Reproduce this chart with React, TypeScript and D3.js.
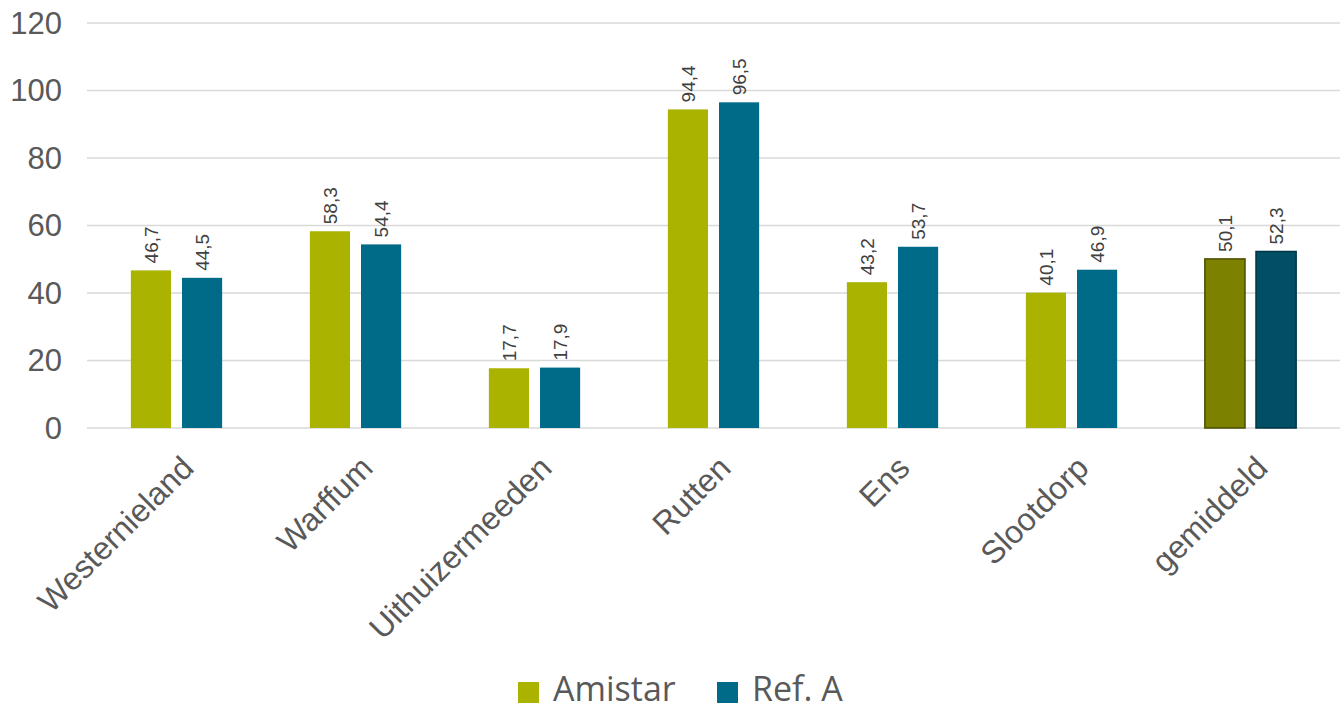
import React from "react";
import * as d3 from "d3";

const categories = ["Westernieland", "Warffum", "Uithuizermeeden", "Rutten", "Ens", "Slootdorp", "gemiddeld"];
const amistar = [46.7, 58.3, 17.7, 94.4, 43.2, 40.1, 50.1];
const refA = [44.5, 54.4, 17.9, 96.5, 53.7, 46.9, 52.3];
const seriesNames = ["Amistar", "Ref. A"];
const yTicks = [0, 20, 40, 60, 80, 100, 120];

const W = 1344;
const H = 711;
const colors = ["#a9b300", "#006a89"];
const avgColors = ["#7c8200", "#004f66"];
const avgStroke = ["#4a4e00", "#003545"];

const fmt = (v: number) => v.toFixed(1).replace(".", ",");

export default function App() {
  const x = d3.scaleBand<string>().domain(categories).range([87, 1340]).paddingInner(0.49).paddingOuter(0.245);
  const x1 = d3.scaleBand<string>().domain(seriesNames).range([0, x.bandwidth()]).paddingInner(0.215);
  const y = d3.scaleLinear().domain([0, 120]).range([428, 23]);
  const axisFont = "'Liberation Sans', Arial, sans-serif";
  const series = [amistar, refA];

  return (
    <svg width={W} height={H} style={{ position: "absolute", left: 0, top: 0, background: "#fff" }}>
      {yTicks.map((t) => (
        <g key={t}>
          <line x1={87} x2={1340} y1={y(t)} y2={y(t)} stroke="#d9d9d9" strokeWidth={1.5} />
          <text x={62} y={y(t)} dy="0.35em" textAnchor="end" fontFamily={axisFont} fontSize={31} fill="#595959">
            {t}
          </text>
        </g>
      ))}
      {categories.map((c, i) => {
        const isAvg = c === "gemiddeld";
        return (
          <g key={c}>
            {series.map((s, j) => {
              const bx = (x(c) ?? 0) + (x1(seriesNames[j]) ?? 0);
              const bw = x1.bandwidth();
              const top = y(s[i]);
              return (
                <g key={j}>
                  <rect
                    x={bx}
                    y={top}
                    width={bw}
                    height={y(0) - top}
                    fill={isAvg ? avgColors[j] : colors[j]}
                    stroke={isAvg ? avgStroke[j] : "none"}
                    strokeWidth={isAvg ? 1.5 : 0}
                  />
                  <text
                    transform={`translate(${bx + bw / 2},${top - 7}) rotate(-90)`}
                    dy="0.35em"
                    textAnchor="start"
                    fontFamily={axisFont}
                    fontSize={19}
                    fill="#404040"
                  >
                    {fmt(s[i])}
                  </text>
                </g>
              );
            })}
            <text
              transform={`translate(${(x(c) ?? 0) + x.bandwidth() / 2 + 19},${470}) rotate(-45)`}
              textAnchor="end"
              fontFamily={axisFont}
              fontSize={32}
              fill="#595959"
            >
              {c}
            </text>
          </g>
        );
      })}
      {seriesNames.map((n, j) => {
        const lx = j === 0 ? 518 : 717;
        return (
          <g key={n}>
            <rect x={lx} y={682} width={21} height={21} fill={colors[j]} />
            <text x={lx + 35} y={701} fontFamily="'Open Sans', sans-serif" fontSize={34} fill="#595959">
              {n}
            </text>
          </g>
        );
      })}
    </svg>
  );
}
